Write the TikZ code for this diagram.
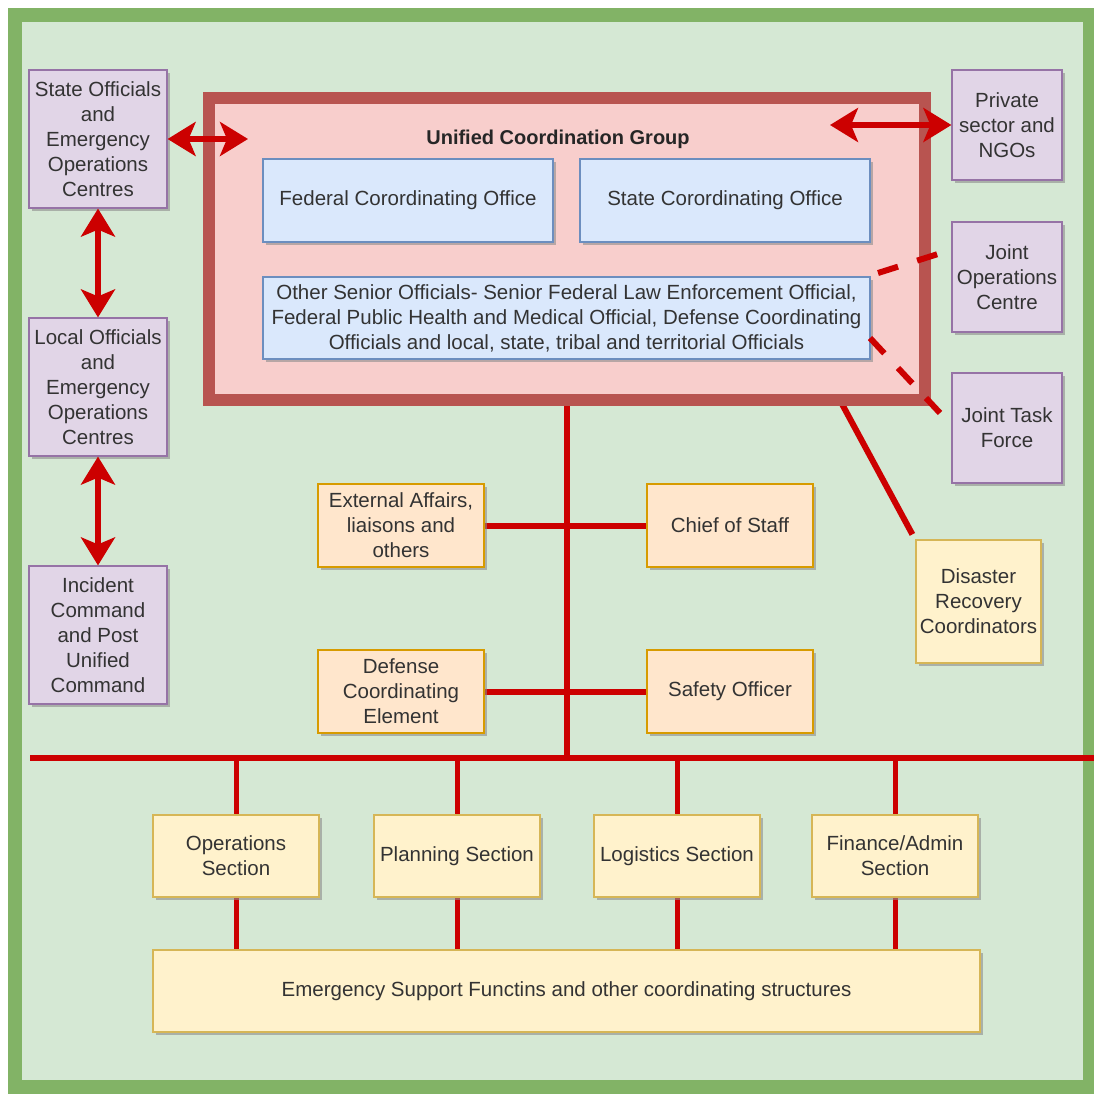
\documentclass[tikz,border=0pt]{standalone}
\usepackage{fontspec}
\setmainfont{Liberation Sans}
\usetikzlibrary{arrows.meta,shadows}

\definecolor{frameFill}{HTML}{D5E8D4}
\definecolor{frameLine}{HTML}{82B366}
\definecolor{purpFill}{HTML}{E1D5E7}
\definecolor{purpLine}{HTML}{9673A6}
\definecolor{ucgFill}{HTML}{F8CECC}
\definecolor{ucgLine}{HTML}{B85450}
\definecolor{blueFill}{HTML}{DAE8FC}
\definecolor{blueLine}{HTML}{6C8EBF}
\definecolor{orFill}{HTML}{FFE6CC}
\definecolor{orLine}{HTML}{D79B00}
\definecolor{yelFill}{HTML}{FFF2CC}
\definecolor{yelLine}{HTML}{D6B656}
\definecolor{linkRed}{HTML}{CC0000}
\definecolor{txt}{HTML}{333333}

\pgfdeclarelayer{bg}
\pgfdeclarelayer{links}
\pgfsetlayers{bg,links,main}

\tikzset{
  boxbase/.style={rectangle, inner sep=0pt, align=center, text=txt,
    font=\fontsize{20.5}{25}\selectfont, line width=1.2pt,
    drop shadow={shadow xshift=3pt, shadow yshift=-3pt, fill=black!45, opacity=0.6}},
  purpbox/.style={boxbase, fill=purpFill, draw=purpLine,
    minimum width=138, minimum height=138},
  sidebox/.style={boxbase, fill=purpFill, draw=purpLine,
    minimum width=110, minimum height=110},
  bluebox/.style={boxbase, fill=blueFill, draw=blueLine, minimum height=83},
  orbox/.style={boxbase, fill=orFill, draw=orLine,
    minimum width=166, minimum height=83},
  yelbox/.style={boxbase, fill=yelFill, draw=yelLine, minimum height=82},
  link/.style={draw=linkRed, line width=6pt},
  sublink/.style={draw=linkRed, line width=5pt},
  dashlink/.style={draw=linkRed, line width=6pt, dash pattern=on 21pt off 20pt},
  biarrow/.style={draw=linkRed, fill=linkRed, line width=6pt,
    {Stealth[length=28pt,width=34pt,inset=7pt]}-{Stealth[length=28pt,width=34pt,inset=7pt]}}
}

\begin{document}
\begin{tikzpicture}[x=1pt,y=-1pt]
\useasboundingbox (0,0) rectangle (1094,1093);

% outer frame
\begin{pgfonlayer}{bg}
  \draw[fill=frameFill, draw=frameLine, line width=14pt] (15,15) rectangle (1090,1087);
\end{pgfonlayer}

% unified coordination group container
\node[rectangle, fill=ucgFill, draw=ucgLine, line width=12pt, inner sep=0pt,
      minimum width=716, minimum height=302,
      drop shadow={shadow xshift=4pt, shadow yshift=-4pt, fill=black!45, opacity=0.6}]
      (ucg) at (567,249) {};
\node[font=\bfseries\fontsize{20}{25}\selectfont, text=black!85] (ucgtitle) at (558,139) {Unified Coordination Group};
\node[bluebox, minimum width=290] (fco) at (408,200.5) {Federal Corordinating Office};
\node[bluebox, minimum width=290] (sco) at (725,200.5) {State Corordinating Office};
\node[bluebox, minimum width=607, minimum height=82] (oso) at (566.5,318)
  {Other Senior Officials- Senior Federal Law Enforcement Official,\\
   Federal Public Health and Medical Official, Defense Coordinating\\
   Officials and local, state, tribal and territorial Officials};

% left column
\node[purpbox] (state) at (98,139) {State Officials\\and\\Emergency\\Operations\\Centres};
\node[purpbox] (local) at (98,387) {Local Officials\\and\\Emergency\\Operations\\Centres};
\node[purpbox] (incident) at (98,635) {Incident\\Command\\and Post\\Unified\\Command};

% right column
\node[sidebox] (private) at (1007,125) {Private\\sector and\\NGOs};
\node[sidebox] (joc) at (1007,277) {Joint\\Operations\\Centre};
\node[sidebox] (jtf) at (1007,428) {Joint Task\\Force};
\node[boxbase, fill=yelFill, draw=yelLine, minimum width=125, minimum height=123]
  (drc) at (978.5,601.5) {Disaster\\Recovery\\Coordinators};

% command staff
\node[orbox] (ext) at (401,525.5) {External Affairs,\\liaisons and\\others};
\node[orbox] (cos) at (730,525.5) {Chief of Staff};
\node[orbox] (dce) at (401,691.5) {Defense\\Coordinating\\Element};
\node[orbox] (safety) at (730,691.5) {Safety Officer};

% general staff sections
\node[yelbox, minimum width=166] (ops) at (236,856) {Operations\\Section};
\node[yelbox, minimum width=166] (plan) at (457,856) {Planning Section};
\node[yelbox, minimum width=166] (logi) at (677,856) {Logistics Section};
\node[yelbox, minimum width=166] (fin) at (895,856) {Finance/Admin\\Section};
\node[yelbox, minimum width=827] (esf) at (566.5,991)
  {Emergency Support Functins and other coordinating structures};

% free connector ends
\coordinate (busL) at (30,758);
\coordinate (busR) at (1094,758);
\coordinate (trunkEnd) at (567,758);
\coordinate (ucgIn) at (248,139);
\coordinate (ucgInR) at (830,125);
\coordinate (drcStart) at (842,404);
\coordinate (jocA) at (878,273);
\coordinate (jocB) at (938,254);
\coordinate (jtfA) at (870,338);
\coordinate (jtfB) at (940,413);

\begin{pgfonlayer}{links}
  \draw[link] (ucg.south) -- (trunkEnd);
  \draw[link] (busL) -- (busR);
  \draw[link] (ext.east) -- (cos.west);
  \draw[link] (dce.east) -- (safety.west);
  \draw[link] (drcStart) -- ([xshift=-3pt,yshift=5pt]drc.north west);
  \foreach \s in {ops,plan,logi,fin}{
    \draw[sublink] (\s.north) -- (\s.north |- busL);
    \draw[sublink] (\s.south) -- (\s.south |- esf.north);
  }
\end{pgfonlayer}

\draw[dashlink] (jocA) -- (jocB);
\draw[dashlink] (jtfA) -- (jtfB);

% two-way links
\draw[biarrow] (state.east) -- (ucgIn);
\draw[biarrow] (ucgInR) -- (private.west);
\draw[biarrow] (state.south) -- (local.north);
\draw[biarrow] (local.south) -- (incident.north);
\end{tikzpicture}
\end{document}
